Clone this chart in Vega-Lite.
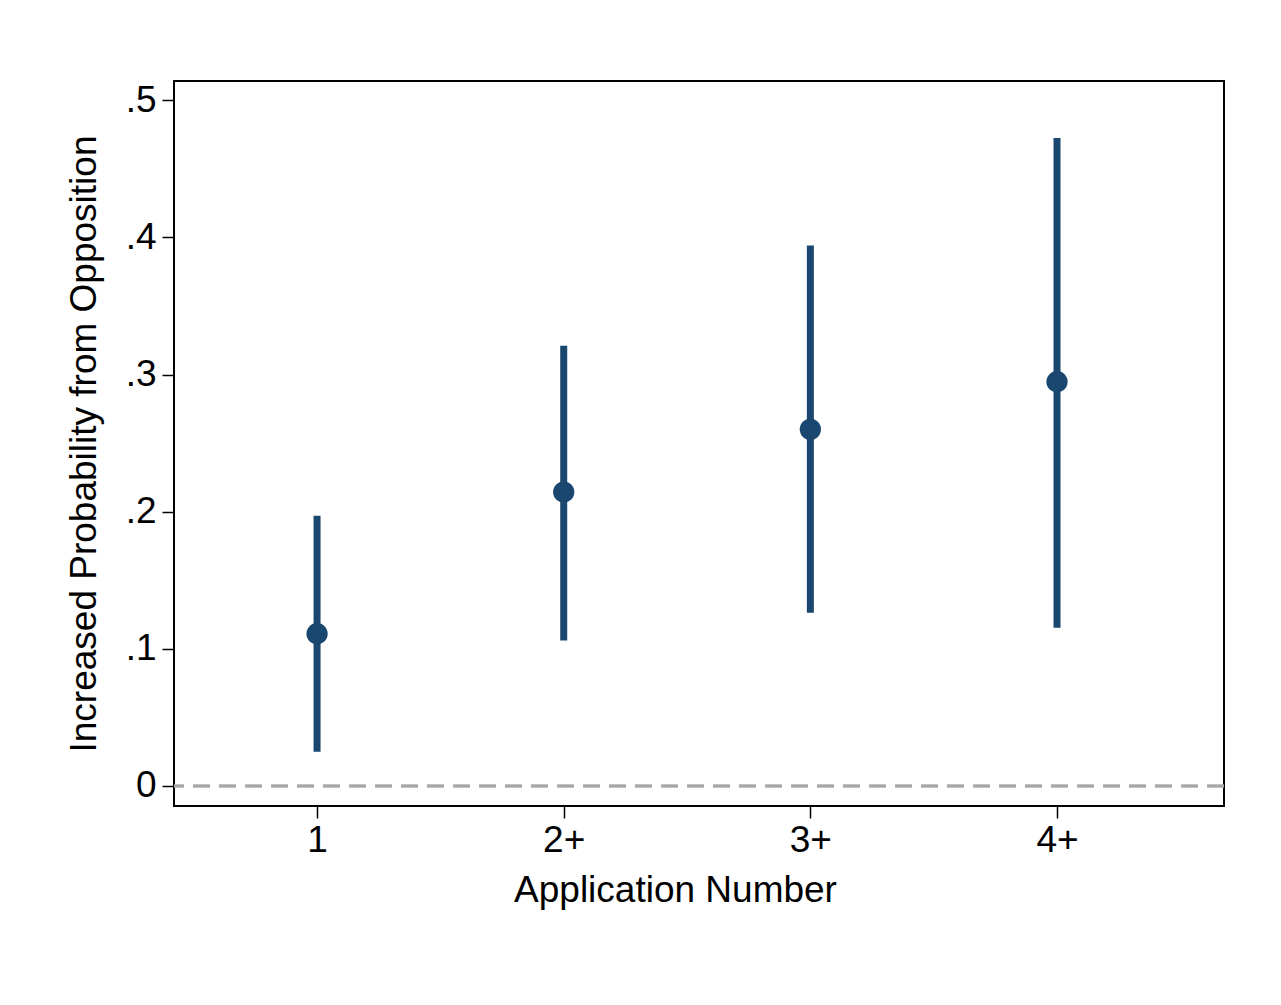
{
  "$schema": "https://vega.github.io/schema/vega-lite/v6.json",
  "width": 1050,
  "height": 725,
  "autosize": {"type": "none"},
  "padding": {"left": 174, "top": 81, "right": 57, "bottom": 199},
  "background": "white",
  "config": {
    "font": "Liberation Sans",
    "view": {"stroke": "black", "strokeWidth": 2},
    "axis": {
      "grid": false,
      "domain": false,
      "tickColor": "black",
      "tickWidth": 1.5,
      "tickSize": 12,
      "labelFont": "Liberation Sans",
      "titleFont": "Liberation Sans",
      "labelFontSize": 37,
      "titleFontSize": 37,
      "labelColor": "black",
      "titleColor": "black",
      "titleFontWeight": "normal"
    }
  },
  "data": {
    "values": [
      {"app": 1, "est": 0.111, "lo": 0.0249, "hi": 0.197},
      {"app": 2, "est": 0.2143, "lo": 0.106, "hi": 0.321},
      {"app": 3, "est": 0.260, "lo": 0.1263, "hi": 0.394},
      {"app": 4, "est": 0.2948, "lo": 0.1154, "hi": 0.4724}
    ]
  },
  "layer": [
    {
      "mark": {"type": "rule", "color": "#a6a6a6", "strokeWidth": 2.5, "strokeDash": [17, 9]},
      "encoding": {"y": {"datum": 0, "type": "quantitative", "scale": {"domain": [-0.0146, 0.514]}}}
    },
    {
      "mark": {"type": "rule", "color": "#1a476f", "strokeWidth": 7, "strokeCap": "butt"},
      "encoding": {
        "x": {
          "field": "app", "type": "quantitative",
          "scale": {"domain": [0.42, 4.677], "nice": false, "zero": false},
          "axis": {
            "values": [1, 2, 3, 4],
            "labelExpr": "datum.value == 1 ? '1' : datum.value + '+'",
            "title": "Application Number",
            "labelPadding": 4,
            "titlePadding": 14,
            "titleX": 501
          }
        },
        "y": {
          "field": "lo", "type": "quantitative",
          "scale": {"domain": [-0.0146, 0.514], "nice": false, "zero": false},
          "axis": {
            "values": [0, 0.1, 0.2, 0.3, 0.4, 0.5],
            "labelExpr": "datum.value == 0 ? '0' : substring(format(datum.value, '.1f'), 1)",
            "title": "Increased Probability from Opposition",
            "labelPadding": 6,
            "titlePadding": 22
          }
        },
        "y2": {"field": "hi"}
      }
    },
    {
      "mark": {"type": "point", "shape": "circle", "filled": true, "opacity": 1, "color": "#1a476f", "size": 452},
      "encoding": {
        "x": {"field": "app", "type": "quantitative"},
        "y": {"field": "est", "type": "quantitative"}
      }
    }
  ]
}
